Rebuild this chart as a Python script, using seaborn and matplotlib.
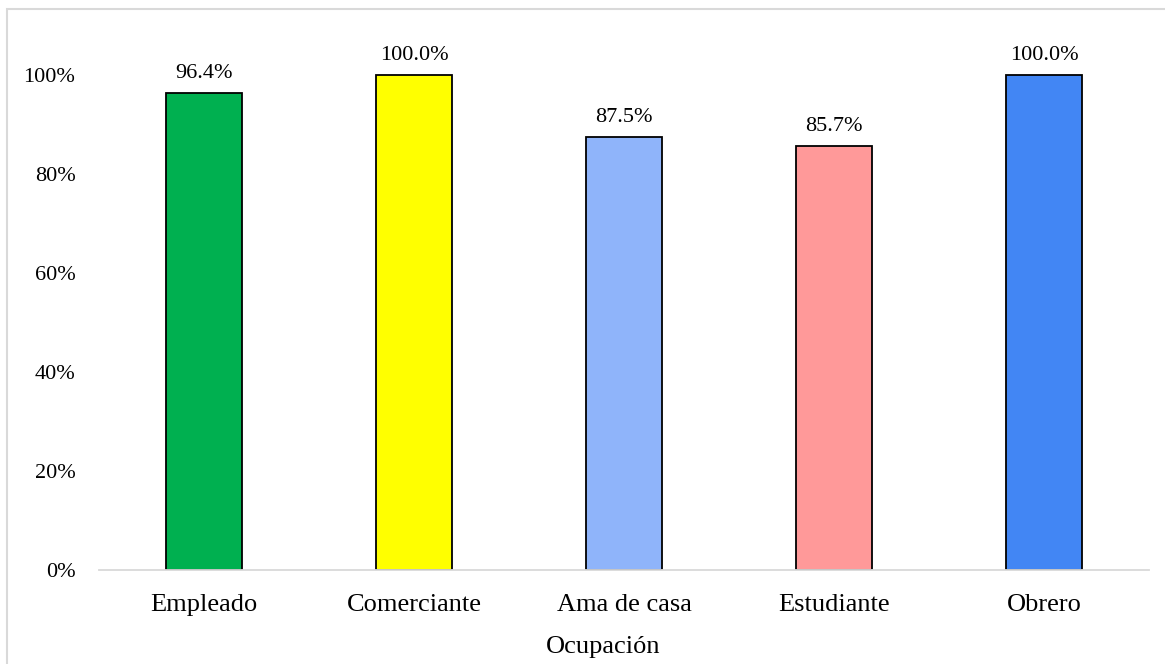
import pandas as pd
import seaborn as sns
import matplotlib.pyplot as plt
from matplotlib import ticker
from matplotlib.patches import Rectangle

# Datos
ocupacion = ['Empleado', 'Comerciante', 'Ama de casa', 'Estudiante', 'Obrero']
porcentaje = [0.964, 1.0, 0.875, 0.857, 1.0]
colores = ['#00B050', '#FFFF00', '#8FB4FA', '#FF9999', '#4286F4']

dados = pd.DataFrame({'ocupacion': ocupacion, 'porcentaje': porcentaje})

sns.set_style('white')
plt.rcParams['font.family'] = ['Liberation Serif', 'DejaVu Serif']
plt.rcParams['text.color'] = 'black'
plt.rcParams['xtick.color'] = 'black'
plt.rcParams['ytick.color'] = 'black'
plt.rcParams['axes.labelcolor'] = 'black'

fig = plt.figure(figsize=(11.65, 6.64), dpi=100)
ax = fig.add_axes([99 / 1165, 1 - 570 / 664, 1050 / 1165, 540 / 664])

sns.barplot(x='ocupacion', y='porcentaje', hue='ocupacion', data=dados,
            palette=colores, saturation=1, legend=False, width=0.36,
            edgecolor='black', linewidth=1.3, ax=ax)

# Etiquetas de datos
for i, v in enumerate(porcentaje):
    ax.annotate(f'{v * 100:.1f}%', (i, v), xytext=(0, 7), textcoords='offset points',
                ha='center', va='bottom', fontsize=16, color='black')

ax.set_ylim(0, 540 / 495)
ax.set_xlim(-0.5, 4.5)
ax.set_yticks([0, 0.2, 0.4, 0.6, 0.8, 1.0])
ax.yaxis.set_major_formatter(ticker.PercentFormatter(1.0, decimals=0))
ax.tick_params(axis='y', labelsize=16, length=0, pad=17)
ax.tick_params(axis='x', labelsize=19, length=0, pad=17)

for lado in ['top', 'right', 'left']:
    ax.spines[lado].set_visible(False)
ax.spines['bottom'].set_color('#D9D9D9')
ax.spines['bottom'].set_linewidth(1.3)

ax.set_ylabel('')
ax.set_xlabel('Ocupación', fontsize=19)
ax.xaxis.set_label_coords((603 - 99) / 1050, -0.122)

# Borde del gráfico
borde = Rectangle((7 / 1165, -0.1), 1.2, 1 - 9 / 664 + 0.1, transform=fig.transFigure,
                  fill=False, edgecolor='#D9D9D9', linewidth=1.5, clip_on=False)
fig.patches.append(borde)

fig.savefig('out.png', dpi=100)
